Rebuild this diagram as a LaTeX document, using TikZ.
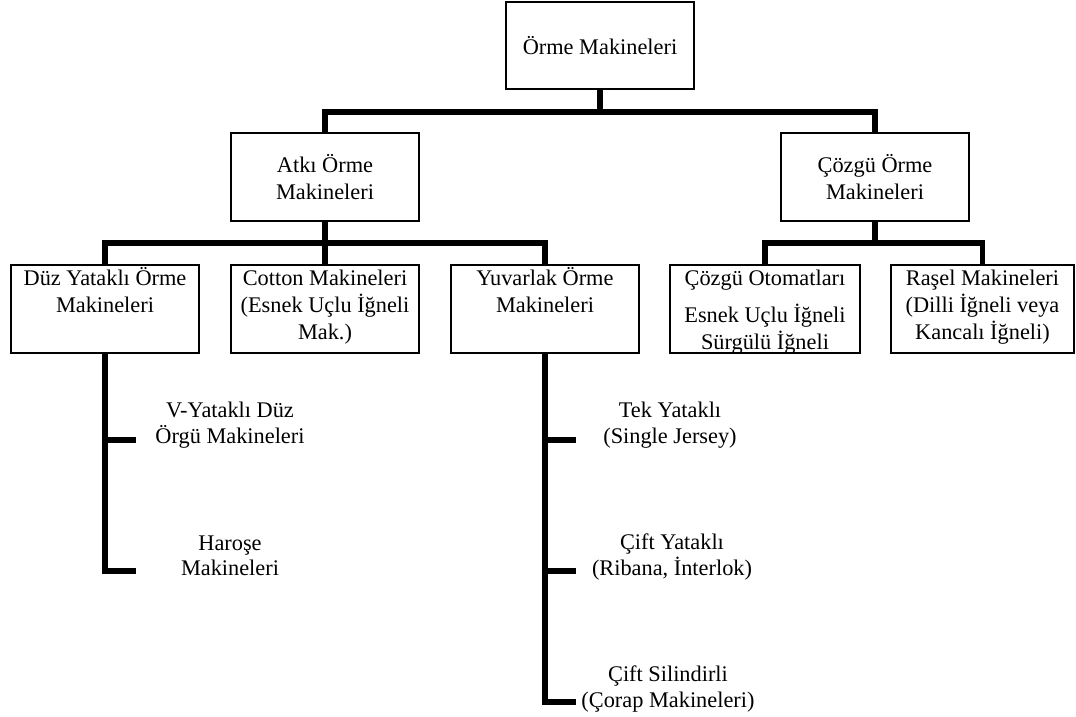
\documentclass[tikz,border=0pt]{standalone}
\usepackage{fontspec}
\setmainfont{Liberation Serif}
\begin{document}
\begin{tikzpicture}[x=0.75pt,y=-0.75pt,
  box/.style={draw,line width=1pt,minimum width=141pt,minimum height=66pt,inner sep=0pt},
  txt/.style={font=\fontsize{16.75}{20}\selectfont,align=center,inner sep=0pt},
  free/.style={font=\fontsize{16.75}{19}\selectfont,align=center,inner sep=0pt},
  conn/.style={line width=4pt}]
\useasboundingbox (0,0) rectangle (1076,717);

% boxes
\node[box,txt,minimum height=65.25pt] (top) at (600,45.5) {Örme Makineleri};
\node[box,txt] (atki) at (325,177) {Atkı Örme\\Makineleri};
\node[box,txt] (cozgu) at (875,177) {Çözgü Örme\\Makineleri};

\node[box] (duz) at (105,309) {};
\node[box] (cotton) at (325,309) {};
\node[box] (yuv) at (545,309) {};
\node[box,minimum width=142.5pt] (oto) at (765,309) {};
\node[box,minimum width=137.25pt] (rasel) at (982.5,309) {};

% box texts (top aligned)
\node[txt,anchor=north] (duzt) at (duz.north) {\rule{0pt}{16pt}Düz Yataklı Örme\\Makineleri};
\node[txt,anchor=north] (cottont) at (cotton.north) {\rule{0pt}{16pt}Cotton Makineleri\\(Esnek Uçlu İğneli\\Mak.)};
\node[txt,anchor=north] (yuvt) at (yuv.north) {\rule{0pt}{16pt}Yuvarlak Örme\\Makineleri};
\node[txt,anchor=north] (otot) at (oto.north) {\rule{0pt}{16pt}Çözgü Otomatları\\[7.5pt]Esnek Uçlu İğneli\\Sürgülü İğneli};
\node[txt,anchor=north] (raselt) at (rasel.north) {\rule{0pt}{16pt}Raşel Makineleri\\(Dilli İğneli veya\\Kancalı İğneli)};

% free texts
\node[free] (vyat) at (230,425) {V-Yataklı Düz\\Örgü Makineleri};
\node[free] (haro) at (230,556) {Haroşe\\Makineleri};
\node[free] (tek) at (670,425) {Tek Yataklı\\(Single Jersey)};
\node[free] (cyat) at (672,557) {Çift Yataklı\\(Ribana, İnterlok)};
\node[free] (csil) at (668,689) {Çift Silindirli\\(Çorap Makineleri)};

% connectors
\coordinate (j1) at (600,112);
\draw[conn] (top.south) -- (j1);
\draw[conn] (atki.north) |- (j1) -| (cozgu.north);

\coordinate (j2) at (325,243);
\draw[conn] (atki.south) -- (j2) -- (cotton.north);
\draw[conn] (duz.north) |- (j2) -| (yuv.north);

\coordinate (j3) at (875,243);
\draw[conn] (cozgu.south) -- (j3);
\draw[conn] (oto.north) |- (j3) -| (rasel.north);

\coordinate (a1) at (136,440);
\coordinate (a2) at (136,571);
\draw[conn] (duz.south) |- (a2);
\draw[conn] (duz.south |- a1) -- (a1);

\coordinate (b1) at (576,440);
\coordinate (b2) at (576,571);
\coordinate (b3) at (576,702);
\draw[conn] (yuv.south) |- (b3);
\draw[conn] (yuv.south |- b1) -- (b1);
\draw[conn] (yuv.south |- b2) -- (b2);
\end{tikzpicture}
\end{document}
